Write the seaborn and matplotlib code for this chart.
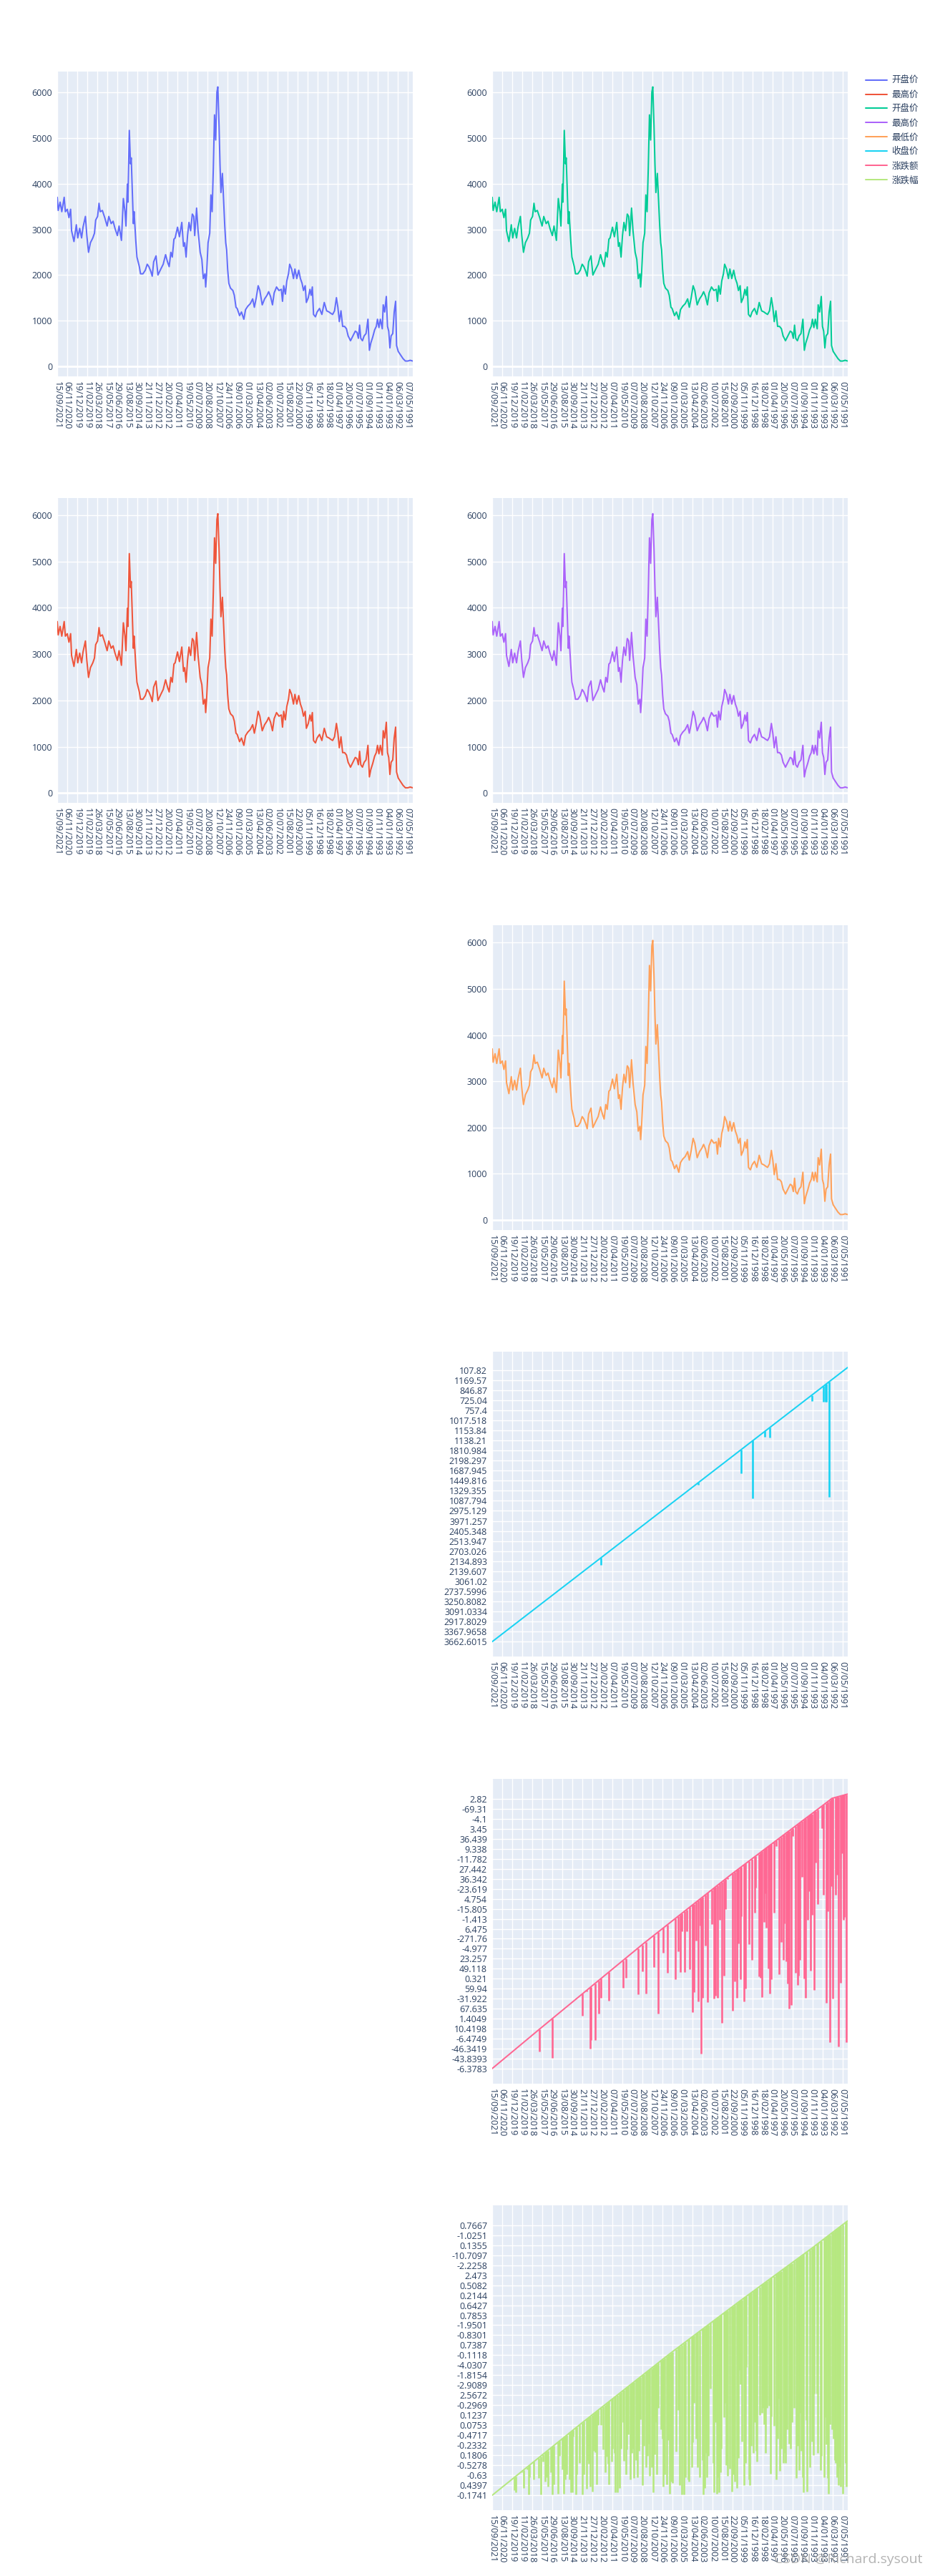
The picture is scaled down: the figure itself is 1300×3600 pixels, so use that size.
import numpy as np
import matplotlib
matplotlib.use('Agg')
import matplotlib.pyplot as plt
from matplotlib.lines import Line2D
from matplotlib.ticker import MultipleLocator
import seaborn as sns

# ---------- dados ----------
# eixo x categórico: um ponto por pregão (índice 0 = 15/09/2021), rótulo a cada 210 pregões
n_days = 7450
dtick = 210
date_ticks = ['15/09/2021', '06/11/2020', '19/12/2019', '11/02/2019', '26/03/2018', '15/05/2017',
              '29/06/2016', '13/08/2015', '30/09/2014', '21/11/2013', '27/12/2012', '20/02/2012',
              '07/04/2011', '19/05/2010', '07/07/2009', '20/08/2008', '12/10/2007', '24/11/2006',
              '09/01/2006', '01/03/2005', '13/04/2004', '02/06/2003', '10/07/2002', '15/08/2001',
              '22/09/2000', '05/11/1999', '16/12/1998', '18/02/1998', '01/04/1997', '20/05/1996',
              '07/07/1995', '01/09/1994', '01/11/1993', '04/01/1993', '06/03/1992', '07/05/1991']

# preços (pregão -> valor)
px_days = [0, 20, 60, 95, 145, 170, 210, 245, 280, 300,
           350, 400, 430, 470, 510, 540, 590, 620, 655, 695,
           745, 780, 805, 845, 875, 900, 945, 995, 1045, 1080,
           1130, 1170, 1210, 1260, 1295, 1345, 1385, 1420, 1440, 1470,
           1480, 1510, 1535, 1550, 1570, 1595, 1610, 1645, 1670, 1720,
           1745, 1795, 1845, 1885, 1920, 1960, 1990, 2020, 2070, 2110,
           2170, 2220, 2270, 2310, 2345, 2380, 2410, 2445, 2470, 2520,
           2560, 2610, 2645, 2670, 2700, 2730, 2760, 2795, 2830, 2860,
           2880, 2920, 2950, 2995, 3030, 3060, 3095, 3110, 3130, 3160,
           3195, 3220, 3245, 3270, 3295, 3320, 3345, 3365, 3390, 3410,
           3430, 3460, 3480, 3510, 3530, 3550, 3570, 3595, 3630, 3680,
           3710, 3745,
           3770, 3820, 3860, 3910, 3945, 3995, 4045, 4095, 4130, 4170,
           4210, 4245, 4295, 4345, 4395, 4430, 4470, 4510, 4545, 4595,
           4645, 4695, 4720, 4745, 4780, 4810, 4845, 4870, 4910, 4950,
           4980, 5020, 5060, 5095, 5130, 5160, 5195, 5220, 5260, 5295,
           5320, 5345, 5370, 5410, 5445, 5495, 5545, 5595, 5645, 5695,
           5730, 5770, 5810, 5850, 5880, 5910, 5945, 5980, 6020, 6060,
           6095, 6145, 6195, 6245, 6280, 6310, 6335, 6360, 6395, 6430,
           6470, 6510, 6540, 6570, 6610, 6650, 6685, 6710, 6740, 6770,
           6810, 6830, 6860, 6895, 6920, 6945, 6970, 6995, 7030, 7060,
           7090, 7110, 7145, 7195, 7245, 7295, 7345, 7395, 7449]
open_vals = [3702, 3414, 3597, 3387, 3702, 3387, 3440, 3257, 3440, 2969,
             2733, 3100, 2812, 3021, 2812, 3047, 3283, 2864, 2497, 2707,
             2812, 2916, 3204, 3283, 3571, 3387, 3414, 3257, 3073, 3283,
             3126, 3178, 3021, 2864, 3073, 2759, 3675, 3387, 3073, 3990,
             3597, 5168, 4435, 4566, 3911, 3126, 3388, 2759, 2393, 2183,
             2026, 2026, 2105, 2236, 2183, 2079, 1974, 2288, 2419, 2000,
             2131, 2236, 2445, 2288, 2183, 2497, 2393, 2785, 2812, 3047,
             2838, 3152, 2628, 2707, 2393, 2864, 3152, 2969, 3335, 3283,
             2864, 3466, 2969, 2497, 2340, 1921, 2026, 1738, 2026, 2707,
             2916, 3754, 3388, 4330, 5508, 4958, 6006, 6121, 5273, 4435,
             3807, 4225, 3754, 3073, 2707, 2550, 2131, 1817, 1712, 1660,
             1555, 1293,
             1267, 1110, 1189, 1031, 1241, 1319, 1372, 1477, 1293, 1503,
             1765, 1660, 1346, 1477, 1555, 1634, 1529, 1346, 1607, 1738,
             1660, 1686, 1424, 1765, 1581, 1869, 2026, 2236, 2131, 1922,
             2131, 1922, 2105, 1922, 1817, 1660, 1765, 1398, 1503, 1686,
             1555, 1738, 1136, 1084, 1189, 1267, 1136, 1398, 1215, 1189,
             1162, 1136, 1215, 1503, 1293, 979, 1215, 874, 874, 822,
             665, 560, 665, 770, 744, 613, 901, 613, 560, 665,
             717, 1031, 351, 508, 639, 796, 874, 1031, 848, 1031,
             822, 1346, 1189, 1529, 874, 770, 403, 665, 717, 1189,
             1424, 456, 325, 246, 168, 115, 115, 131, 115]
# máximo / mínimo: mesmo traçado, só os picos diferem na figura
high_peaks = {3345: 5900, 3365: 6030}
low_peaks = {3345: 5930, 3365: 6050}

# 收盘价 / 涨跌额 / 涨跌幅 foram plotados como texto -> eixo y categórico
# nível = posição da categoria em passos de rótulo; envelope = nº de valores distintos até o pregão
close_labels = ['3662.6015', '3367.9658', '2917.8029', '3091.0334', '3250.8082', '2737.5996',
                '3061.02', '2139.607', '2134.893', '2703.026', '2513.947', '2405.348',
                '3971.257', '2975.129', '1087.794', '1329.355', '1449.816', '1687.945',
                '2198.297', '1810.984', '1138.21', '1153.84', '1017.518', '757.4',
                '725.04', '846.87', '1169.57', '107.82']
close_env_days = [0, 7449]
close_env_level = [0, 27.26]
close_dips = [(2283, 7.62), (4320, 15.6), (5221, 16.7), (5462, 14.26), (5710, 20.38),
              (5823, 20.26), (6697, 23.91), (6943, 23.87), (6983, 23.87), (7006, 23.87),
              (7058, 14.4)]

chg_labels = ['-6.3783', '-43.8393', '-46.3419', '-6.4749', '10.4198', '1.4049', '67.635',
              '-31.922', '59.94', '0.321', '49.118', '23.257', '-4.977', '-271.76', '6.475',
              '-1.413', '-15.805', '4.754', '-23.619', '36.342', '27.442', '-11.782', '9.338',
              '36.439', '3.45', '-4.1', '-69.31', '2.82']
chg_env_days = [0, 974, 3177, 5023, 6894, 7119, 7449]
chg_env_level = [0, 3.88, 12.55, 19.5, 26.24, 27.07, 27.5]
chg_dips = [(993, 1.71), (1262, 1.07), (1894, 5.28), (1980, 7.7), (2054, 1.96), (2069, 2.85),
            (2153, 2.86), (2226, 5.54), (2279, 7.07), (2438, 6.81), (2743, 8.09), (2799, 9.11),
            (3053, 7.45), (3144, 9.74), (3217, 7.55), (3387, 10.17), (3478, 5.48), (3587, 11.6),
            (3667, 9.57), (3841, 8.98), (3891, 11.71), (3935, 9.69), (3975, 13.74), (4026, 9.69),
            (4076, 13.74), (4135, 9.93), (4200, 5.64), (4225, 7.67), (4276, 12.79), (4316, 6.71),
            (4355, 14.31), (4374, 1.48), (4410, 7.07), (4465, 12.31), (4515, 6.62), (4599, 14.45),
            (4649, 7.0), (4675, 7.29), (4715, 7.05), (4773, 14.93), (4813, 4.57), (4849, 9.33),
            (4889, 16.0), (4933, 18.98), (5034, 5.76), (5074, 8.74), (5132, 7.07), (5162, 12.55),
            (5198, 8.98), (5223, 15.29), (5273, 6.71), (5313, 8.02), (5387, 12.43), (5447, 10.88),
            (5498, 15.64), (5521, 18.14), (5586, 9.21), (5622, 9.1), (5647, 7.19), (5697, 14.69),
            (5731, 17.55), (5746, 14.1), (5786, 10.05), (5821, 7.55), (5846, 8.98), (5912, 15.64),
            (5945, 22.31), (6010, 9.45), (6061, 12.67), (6105, 10.88), (6119, 14.57), (6159, 10.74),
            (6195, 8.5), (6220, 5.98), (6260, 6.38), (6296, 23.26), (6359, 9.57), (6395, 8.38),
            (6420, 9.33), (6445, 10.88), (6485, 19.21), (6529, 9.02), (6569, 7.07), (6609, 14.93),
            (6644, 17.79), (6670, 9.81), (6699, 15.4), (6743, 7.9), (6779, 20.64), (6819, 16.5),
            (6909, 24.1), (6943, 17.43), (6993, 6.57), (7029, 15.76), (7069, 2.67), (7102, 18.26),
            (7142, 7.0), (7193, 17.43), (7228, 19.45), (7258, 2.19), (7293, 8.62), (7327, 21.6),
            (7356, 14.93), (7382, 15.17), (7417, 2.67)]

pct_labels = ['-0.1741', '0.4397', '-0.63', '-0.5278', '0.1806', '-0.2332', '-0.4717', '0.0753',
              '0.1237', '-0.2969', '2.5672', '-2.9089', '-1.8154', '-4.0307', '-0.1118', '0.7387',
              '-0.8301', '-1.9501', '0.7853', '0.6427', '0.2144', '0.5082', '2.473', '-2.2258',
              '-10.7097', '0.1355', '-1.0251', '0.7667']
pct_env_days = [0, 1869, 3738, 5200, 6697, 7449]
pct_env_level = [0, 7.19, 14.21, 19.45, 24.69, 27.43]
pct_dips = [(460, 0.52), (490, 0.29), (625, 2.33), (660, 0.76), (735, 2.62), (760, 0.05),
            (785, 1.83), (875, 1.6), (975, 1.71), (1015, 0.05), (1065, 3.38), (1115, 1.36),
            (1135, 1.83), (1165, 0.88), (1225, 2.31), (1265, 0.05), (1295, 1.12), (1375, 0.17),
            (1410, 3.98), (1465, 2.62), (1500, 0.17), (1525, 1.6), (1565, 2.07), (1615, 1.6),
            (1655, 0.29), (1675, 0.29), (1700, 5.88), (1750, 0.05), (1775, 2.07), (1835, 3.24),
            (1890, 0.05), (1925, 2.07), (1975, 0.64), (2000, 3.52), (2025, 3.14), (2050, 0.88),
            (2100, 0.4), (2125, 4.45), (2160, 4.33), (2190, 1.12), (2225, 7.0), (2275, 7.0),
            (2325, 4.57), (2365, 2.31), (2400, 3.86), (2425, 3.14), (2450, 1.12), (2500, 3.38),
            (2525, 4.69), (2565, 4.21), (2585, 0.29), (2625, 0.29), (2665, 0.76), (2700, 4.69),
            (2740, 7.29), (2765, 3.48), (2800, 2.07), (2825, 4.57), (2850, 6.07), (2900, 1.6),
            (2925, 4.21), (2950, 4.69), (2975, 1.71), (3015, 3.52), (3035, 1.83), (3075, 4.45),
            (3100, 7.57), (3150, 0.98), (3175, 4.93), (3225, 2.78), (3250, 3.98), (3275, 5.17),
            (3300, 1.95), (3335, 2.79), (3375, 0.29), (3400, 4.07), (3425, 7.29), (3450, 2.07),
            (3475, 8.74), (3535, 6.57), (3565, 5.64), (3585, 0.88), (3615, 2.07), (3650, 1.12),
            (3685, 5.55), (3715, 0.17), (3742, 1.36), (3777, 1.24), (3852, 4.4), (3902, 8.5),
            (3927, 1.0), (3977, 0.05), (4017, 0.05), (4052, 1.83), (4102, 1.6), (4127, 1.36),
            (4177, 2.79), (4202, 5.29), (4227, 9.21), (4277, 5.64), (4302, 2.79), (4352, 1.83),
            (4402, 3.5), (4427, 0.05), (4452, 0.76), (4477, 4.21), (4502, 1.83), (4527, 3.98),
            (4577, 10.64), (4627, 3.26), (4652, 0.29), (4677, 7.31), (4702, 0.17), (4727, 1.83),
            (4752, 0.29), (4777, 2.31), (4802, 4.69), (4852, 7.79), (4877, 9.21), (4902, 3.05),
            (4927, 1.95), (4977, 2.67), (5027, 0.4), (5052, 2.07), (5077, 1.36), (5127, 0.76),
            (5152, 3.74), (5177, 12.55), (5202, 11.12), (5227, 5.4), (5277, 0.98), (5302, 3.26),
            (5327, 12.79), (5377, 1.6), (5402, 0.98), (5427, 4.93), (5477, 4.21), (5502, 7.31),
            (5527, 4.45), (5552, 3.38), (5602, 8.02), (5652, 8.26), (5677, 8.74), (5702, 7.1),
            (5727, 4.21), (5752, 8.74), (5802, 8.98), (5827, 2.19), (5852, 7.9), (5902, 6.93),
            (5952, 1.6), (5977, 5.64), (6002, 9.69), (6027, 2.43), (6052, 4.69), (6102, 3.26),
            (6127, 4.21), (6152, 3.26), (6177, 6.57), (6227, 5.17), (6252, 4.69), (6277, 7.31),
            (6327, 8.74), (6377, 1.71), (6402, 4.93), (6427, 2.55), (6452, 8.26), (6477, 4.45),
            (6502, 1.83), (6527, 0.29), (6577, 7.55), (6602, 0.4), (6652, 2.79), (6702, 5.36),
            (6727, 4.05), (6752, 10.17), (6802, 10.17), (6827, 4.21), (6877, 2.55), (6902, 3.98),
            (6952, 1.83), (6977, 7.79), (7002, 5.12), (7027, 1.71), (7052, 0.17), (7077, 7.07),
            (7127, 6.57), (7152, 5.64), (7177, 3.5), (7202, 3.26), (7227, 1.83), (7252, 1.0),
            (7277, 2.79), (7302, 0.88), (7352, 0.17), (7402, 3.26), (7427, 0.88)]

legend_names = ['开盘价', '最高价', '开盘价', '最高价', '最低价', '收盘价', '涨跌额', '涨跌幅']
legend_colors = ['#636efa', '#EF553B', '#00cc96', '#ab63fa', '#FFA15A', '#19d3f3', '#FF6692', '#B6E880']

# ---------- estilo ----------
sns.set_theme(style='darkgrid', rc={'axes.facecolor': '#E5ECF6', 'grid.color': 'white',
                                    'figure.facecolor': 'white'})
plt.rcParams['font.family'] = ['Open Sans', 'Noto Sans CJK SC', 'DejaVu Sans']

W, H = 1300, 3600
COL_LEFT = [80, 688]
AX_W, AX_H = 497, 426
ROW_TOP0, ROW_STEP = 100, 596.4
FONT_C = '#2a3f5f'
LW = 1.45
DIP_LW = 1.9
FS = 9.0

fig = plt.figure(figsize=(W / 100, H / 100), dpi=100)


def make_ax(row, col):
    top = ROW_TOP0 + ROW_STEP * row
    return fig.add_axes([COL_LEFT[col] / W, 1 - (top + AX_H) / H, AX_W / W, AX_H / H])


def finish_x(ax):
    ax.set_xlim(-0.5, n_days - 0.5)
    ax.set_xticks([i * dtick for i in range(len(date_ticks))])
    ax.set_xticklabels(date_ticks, rotation=-90)
    ax.tick_params(axis='both', length=0, pad=5, labelcolor=FONT_C, labelsize=FS)
    ax.grid(True, color='white', linewidth=1)
    ax.set_axisbelow(True)
    for sp in ax.spines.values():
        sp.set_visible(False)
    ax.set_xlabel('')
    ax.set_ylabel('')


def price_panel(row, col, vals, color):
    ax = make_ax(row, col)
    sns.lineplot(x=px_days, y=vals, ax=ax, color=color, linewidth=LW, errorbar=None)
    lo, hi = min(vals), max(vals)
    pad = 0.056 * (hi - lo)
    ax.axhline(0, color='white', linewidth=2, zorder=1)
    ax.set_ylim(lo - pad, hi + pad)
    ax.yaxis.set_major_locator(MultipleLocator(1000))
    finish_x(ax)


def cat_panel(row, labels, env_days, env_level, dips, color):
    ax = make_ax(row, 1)
    sns.lineplot(x=env_days, y=env_level, ax=ax, color=color, linewidth=LW, errorbar=None)
    d = np.array(dips, dtype=float)
    tops = np.interp(d[:, 0], env_days, env_level)
    ax.vlines(d[:, 0], d[:, 1], tops, color=color, linewidth=DIP_LW)
    ax.set_yticks(range(len(labels)))
    ax.set_yticklabels(labels)
    ax.set_ylim(-1.49, env_level[-1] + 1.55)
    finish_x(ax)


high_vals = [high_peaks.get(d, v) for d, v in zip(px_days, open_vals)]
low_vals = [low_peaks.get(d, v) for d, v in zip(px_days, open_vals)]

price_panel(0, 0, open_vals, legend_colors[0])
price_panel(1, 0, high_vals, legend_colors[1])
price_panel(0, 1, open_vals, legend_colors[2])
price_panel(1, 1, high_vals, legend_colors[3])
price_panel(2, 1, low_vals, legend_colors[4])
cat_panel(3, close_labels, close_env_days, close_env_level, close_dips, legend_colors[5])
cat_panel(4, chg_labels, chg_env_days, chg_env_level, chg_dips, legend_colors[6])
cat_panel(5, pct_labels, pct_env_days, pct_env_level, pct_dips, legend_colors[7])

handles = [Line2D([], [], color=c, linewidth=LW) for c in legend_colors]
leg = fig.legend(handles, legend_names, loc='upper left', bbox_to_anchor=(1210 / W, 1 - 106 / H),
                 frameon=False, fontsize=FS, handlelength=2.4, handletextpad=0.5,
                 labelspacing=0.55, borderpad=0, borderaxespad=0)
for t in leg.get_texts():
    t.set_color(FONT_C)

fig.text(1082 / W, 1 - 3577 / H, 'CSDN @Richard.sysout', fontsize=14, color='#9a9a9a',
         alpha=0.75, va='center', ha='left')

fig.savefig('out.png', dpi=100)
plt.close(fig)
